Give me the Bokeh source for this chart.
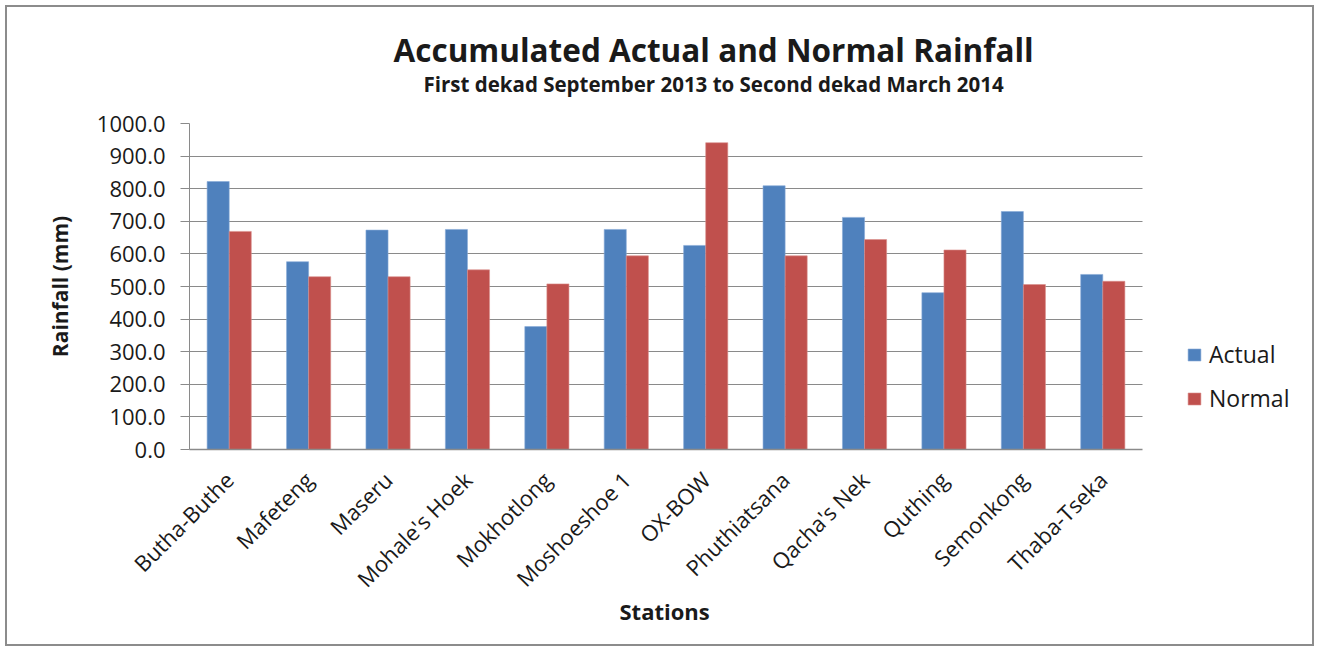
import math
from bokeh.plotting import figure
from bokeh.models import (ColumnDataSource, Range1d, Legend, LegendItem, Title, FixedTicker,
                          SingleIntervalTicker, NumeralTickFormatter)
from bokeh.transform import dodge
from bokeh.embed import file_html
from bokeh.resources import INLINE

stations = ["Butha-Buthe", "Mafeteng", "Maseru", "Mohale's Hoek", "Mokhotlong", "Moshoeshoe 1",
            "OX-BOW", "Phuthiatsana", "Qacha's Nek", "Quthing", "Semonkong", "Thaba-Tseka"]
actual = [822, 576, 673, 675, 377, 675, 626, 809, 712, 481, 730, 537]
normal = [669, 530, 530, 551, 508, 594, 941, 594, 644, 612, 506, 516]

FONT = "Open Sans"
BLUE = "#4F81BD"
RED = "#C0504D"
GRID = "#8A8A8A"
TXT = "#1a1a1a"

n = len(stations)
pos = [i + 0.5 for i in range(n)]
src = ColumnDataSource(dict(x=pos, st=stations, actual=actual, normal=normal))

W, H = 1309, 641
BL, BR, BT, BB = 182, 8, 116, 199
BARS_W = 953                      # pixel width used by the 12 station slots
FRAME_W = W - BL - BR
x_end = n * FRAME_W / BARS_W      # extra room on the right holds the legend

p = figure(x_range=Range1d(0, x_end), y_range=Range1d(0, 1000),
           width=W, height=H, output_backend="svg", toolbar_location=None,
           min_border_left=BL, min_border_right=BR, min_border_top=BT, min_border_bottom=BB)
p.styles = {"border": "2px solid #8c8c8c", "margin-left": "5px", "margin-top": "5px"}
p.outline_line_color = None

r1 = p.vbar(x=dodge("x", -0.139), top="actual", width=0.278, source=src,
            fill_color=BLUE, line_color="#86A9D6", line_width=0.6)
r2 = p.vbar(x=dodge("x", 0.139), top="normal", width=0.278, source=src,
            fill_color=RED, line_color="#DA8E8C", line_width=0.6)

p.xgrid.grid_line_color = None
p.ygrid.grid_line_color = GRID
p.ygrid.grid_line_width = 1.2
p.ygrid.cross_bounds = (0, n)

p.yaxis.ticker = SingleIntervalTicker(interval=100)
p.yaxis.formatter = NumeralTickFormatter(format="0.0")
p.yaxis.axis_line_color = GRID
p.yaxis.major_tick_line_color = GRID
p.yaxis.major_tick_out = 9
p.yaxis.major_tick_in = 0
p.yaxis.minor_tick_line_color = None
p.yaxis.major_label_standoff = 15
p.yaxis.major_label_text_font = FONT
p.yaxis.major_label_text_font_size = "22px"
p.yaxis.major_label_text_color = TXT
p.yaxis.axis_label = "Rainfall (mm)"
p.yaxis.axis_label_text_font = FONT
p.yaxis.axis_label_text_font_size = "21px"
p.yaxis.axis_label_text_font_style = "bold"
p.yaxis.axis_label_text_color = TXT
p.yaxis.axis_label_standoff = 20

p.xaxis.bounds = (0, n)
p.xaxis.ticker = FixedTicker(ticks=pos)
p.xaxis.major_label_overrides = {x: s for x, s in zip(pos, stations)}
p.xaxis.axis_line_color = GRID
p.xaxis.axis_line_width = 1.5
p.xaxis.major_tick_line_color = None
p.xaxis.minor_tick_line_color = None
p.xaxis.major_tick_out = 0
p.xaxis.major_label_orientation = math.pi / 4
p.xaxis.major_label_standoff = 26
p.xaxis.major_label_text_font = FONT
p.xaxis.major_label_text_font_size = "22px"
p.xaxis.major_label_text_color = TXT

legend = Legend(items=[LegendItem(label="Actual", renderers=[r1]),
                       LegendItem(label="Normal", renderers=[r2])],
                location=(997, 35), padding=0, margin=0, border_line_color=None,
                background_fill_alpha=0, glyph_width=16, glyph_height=15, label_height=15,
                spacing=12, label_standoff=7, label_text_font=FONT, label_text_font_size="23px",
                label_text_color=TXT)
p.add_layout(legend)

sub = Title(text="First dekad September 2013 to Second dekad March 2014", align="left",
            offset=234, text_font=FONT, text_font_size="20.5px", text_font_style="bold",
            text_color=TXT, standoff=51)
main = Title(text="Accumulated Actual and Normal Rainfall", align="left", offset=204,
             text_font=FONT, text_font_size="31.5px", text_font_style="bold", text_color=TXT,
             standoff=-56)
p.add_layout(sub, "above")
p.add_layout(main, "above")

xlab = Title(text="Stations", align="left", offset=430, vertical_align="top",
             text_font=FONT, text_font_size="22px", text_font_style="bold", text_color=TXT,
             standoff=-22)
p.add_layout(xlab, "below")

open("out.html", "w").write(file_html(p, INLINE))
